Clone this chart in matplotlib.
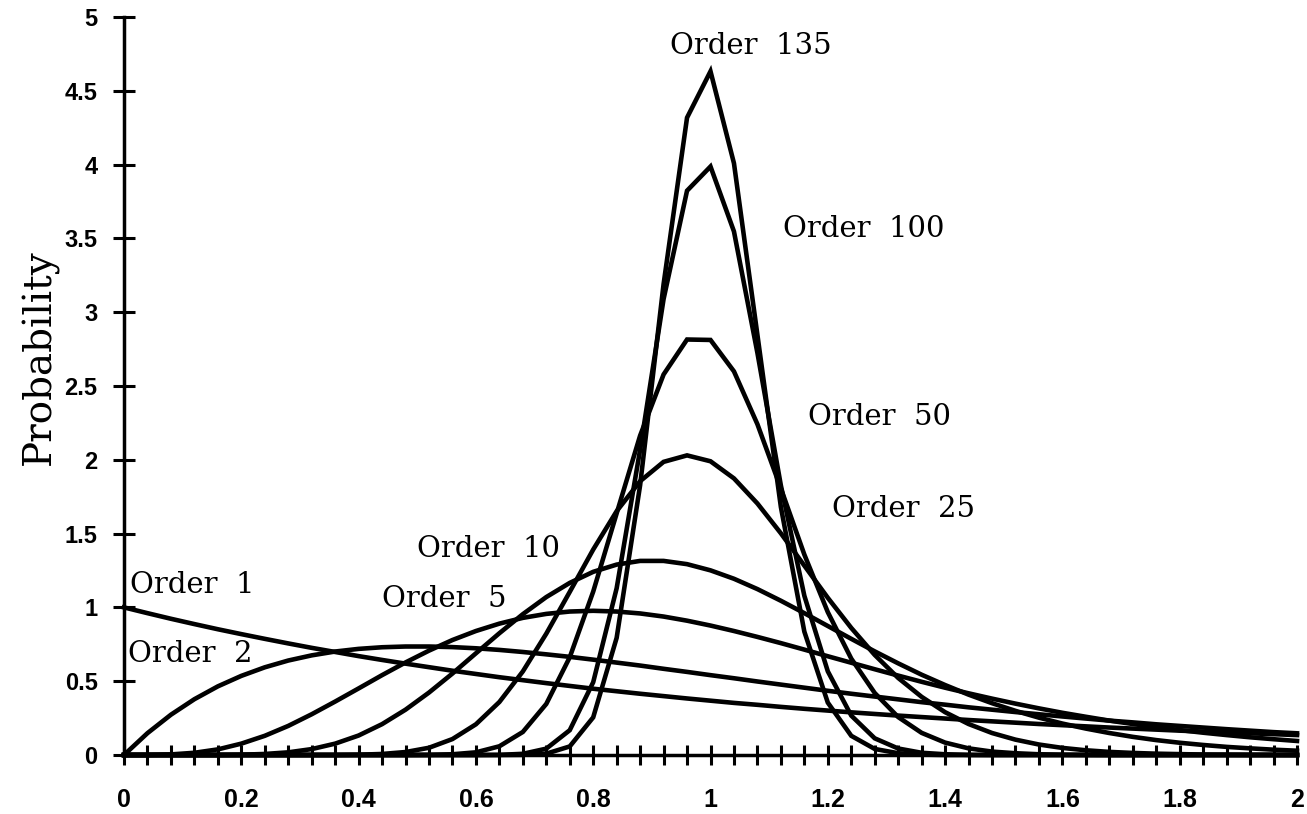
import matplotlib
matplotlib.use("Agg")
import matplotlib.pyplot as plt
from matplotlib.ticker import MultipleLocator, FuncFormatter

# sample positions along the x axis (step 0.04)
x_vals = [round(0.04 * i, 2) for i in range(51)]

# curve values
order1 = [1.000, 0.961, 0.923, 0.887, 0.852, 0.819, 0.787, 0.756, 0.726, 0.698,
          0.670, 0.644, 0.619, 0.595, 0.571, 0.549, 0.527, 0.507, 0.487, 0.468,
          0.449, 0.432, 0.415, 0.399, 0.383, 0.368, 0.353, 0.340, 0.326, 0.313,
          0.301, 0.289, 0.278, 0.267, 0.257, 0.247, 0.237, 0.228, 0.219, 0.210,
          0.202, 0.194, 0.186, 0.179, 0.172, 0.165, 0.159, 0.153, 0.147, 0.141,
          0.135]
order2 = [0.000, 0.148, 0.273, 0.378, 0.465, 0.536, 0.594, 0.640, 0.675, 0.701,
          0.719, 0.730, 0.735, 0.735, 0.731, 0.723, 0.712, 0.698, 0.682, 0.665,
          0.646, 0.626, 0.606, 0.584, 0.563, 0.541, 0.520, 0.498, 0.477, 0.456,
          0.435, 0.415, 0.396, 0.377, 0.358, 0.341, 0.323, 0.307, 0.291, 0.276,
          0.261, 0.247, 0.233, 0.221, 0.208, 0.197, 0.186, 0.175, 0.165, 0.155,
          0.147]
order5 = [0.000, 0.000, 0.004, 0.015, 0.038, 0.077, 0.130, 0.197, 0.276, 0.362,
          0.451, 0.541, 0.627, 0.707, 0.779, 0.840, 0.890, 0.929, 0.956, 0.972,
          0.977, 0.972, 0.959, 0.938, 0.910, 0.877, 0.840, 0.800, 0.758, 0.714,
          0.669, 0.625, 0.581, 0.538, 0.496, 0.456, 0.418, 0.382, 0.348, 0.316,
          0.286, 0.259, 0.233, 0.210, 0.188, 0.169, 0.151, 0.135, 0.120, 0.107,
          0.095]
order10 = [0.000, 0.000, 0.000, 0.000, 0.000, 0.002, 0.007, 0.018, 0.040, 0.077,
           0.132, 0.209, 0.307, 0.423, 0.552, 0.689, 0.825, 0.954, 1.070, 1.166,
           1.241, 1.290, 1.315, 1.315, 1.293, 1.251, 1.194, 1.124, 1.045, 0.961,
           0.874, 0.787, 0.702, 0.621, 0.544, 0.474, 0.409, 0.351, 0.299, 0.253,
           0.213, 0.179, 0.149, 0.123, 0.101, 0.083, 0.068, 0.055, 0.045, 0.036,
           0.029]
order25 = [0.000, 0.000, 0.000, 0.000, 0.000, 0.000, 0.000, 0.000, 0.000, 0.000,
           0.002, 0.007, 0.020, 0.049, 0.108, 0.208, 0.359, 0.566, 0.822, 1.105,
           1.392, 1.652, 1.855, 1.986, 2.030, 1.990, 1.874, 1.704, 1.502, 1.283,
           1.065, 0.861, 0.678, 0.522, 0.394, 0.290, 0.210, 0.149, 0.104, 0.071,
           0.048, 0.032, 0.021, 0.014, 0.009, 0.006, 0.003, 0.002, 0.001, 0.001,
           0.000]
order50 = [0.000, 0.000, 0.000, 0.000, 0.000, 0.000, 0.000, 0.000, 0.000, 0.000,
           0.000, 0.000, 0.000, 0.001, 0.005, 0.018, 0.059, 0.156, 0.346, 0.662,
           1.107, 1.637, 2.164, 2.578, 2.815, 2.812, 2.599, 2.241, 1.806, 1.358,
           0.968, 0.653, 0.420, 0.257, 0.150, 0.084, 0.045, 0.023, 0.012, 0.005,
           0.002, 0.001, 0.000, 0.000, 0.000, 0.000, 0.000, 0.000, 0.000, 0.000,
           0.000]
order100 = [0.000, 0.000, 0.000, 0.000, 0.000, 0.000, 0.000, 0.000, 0.000, 0.000,
            0.000, 0.000, 0.000, 0.000, 0.000, 0.000, 0.001, 0.008, 0.043, 0.168,
            0.493, 1.130, 2.069, 3.089, 3.823, 3.987, 3.547, 2.724, 1.826, 1.079,
            0.567, 0.267, 0.113, 0.044, 0.015, 0.005, 0.001, 0.000, 0.000, 0.000,
            0.000, 0.000, 0.000, 0.000, 0.000, 0.000, 0.000, 0.000, 0.000, 0.000,
            0.000]
order135 = [0.000, 0.000, 0.000, 0.000, 0.000, 0.000, 0.000, 0.000, 0.000, 0.000,
            0.000, 0.000, 0.000, 0.000, 0.000, 0.000, 0.000, 0.001, 0.009, 0.058,
            0.255, 0.794, 1.828, 3.190, 4.318, 4.632, 4.009, 2.846, 1.680, 0.836,
            0.355, 0.130, 0.041, 0.012, 0.003, 0.000, 0.000, 0.000, 0.000, 0.000,
            0.000, 0.000, 0.000, 0.000, 0.000, 0.000, 0.000, 0.000, 0.000, 0.000,
            0.000]

curves = [order1, order2, order5, order10, order25, order50, order100, order135]
curve_labels = ["Order  1", "Order  2", "Order  5", "Order  10",
                "Order  25", "Order  50", "Order  100", "Order  135"]
# where each label sits (left edge, baseline) in data units
label_pos = [(0.010, 1.098), (0.007, 0.630), (0.440, 1.003), (0.500, 1.341),
             (1.207, 1.612), (1.166, 2.236), (1.124, 3.510), (0.931, 4.750)]

W, H = 1307, 814
fig = plt.figure(figsize=(W / 100, H / 100), dpi=100)
ax = fig.add_axes([124 / W, 59 / H, (1297 - 124) / W, (755 - 17) / H])

for ys in curves:
    ax.plot(x_vals, ys, color="black", lw=3.3, solid_joinstyle="miter",
            clip_on=False)

for txt, (tx, ty) in zip(curve_labels, label_pos):
    ax.text(tx, ty, txt, family="DejaVu Serif", fontsize=21,
            ha="left", va="baseline")

ax.set_xlim(0, 2)
ax.set_ylim(0, 5)
for s in ["top", "right"]:
    ax.spines[s].set_visible(False)
for s in ["left", "bottom"]:
    ax.spines[s].set_linewidth(2.5)

ax.xaxis.set_major_locator(MultipleLocator(0.2))
ax.xaxis.set_minor_locator(MultipleLocator(0.04))
ax.yaxis.set_major_locator(MultipleLocator(0.5))
fmt = FuncFormatter(lambda v, p: "%g" % round(v, 2))
ax.xaxis.set_major_formatter(fmt)
ax.yaxis.set_major_formatter(fmt)

ax.tick_params(axis="x", which="both", direction="inout", length=14, width=2.2)
ax.tick_params(axis="x", which="major", pad=17)
ax.tick_params(axis="y", direction="inout", length=16, width=2.2, pad=11)
for lab in ax.get_xticklabels():
    lab.set_family("Liberation Sans")
    lab.set_fontweight("bold")
    lab.set_fontsize(18)
for lab in ax.get_yticklabels():
    lab.set_family("Liberation Sans")
    lab.set_fontweight("bold")
    lab.set_fontsize(17)

fig.text(40 / W, 1 - 357 / H, "Probability", rotation=90, family="DejaVu Serif",
         fontsize=28, ha="center", va="center")

fig.savefig("out.png", dpi=100, facecolor="white")
